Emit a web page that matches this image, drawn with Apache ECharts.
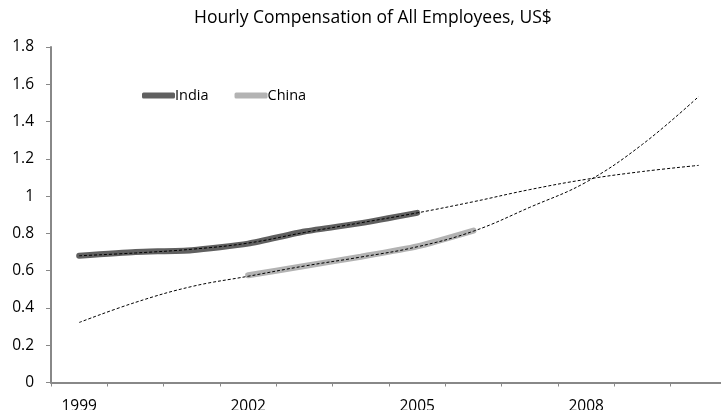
<!DOCTYPE html>
<html>
<head>
<meta charset="utf-8">
<script src="https://cdn.jsdelivr.net/npm/echarts@6/dist/echarts.min.js"></script>
<style>
    html,body{margin:0;padding:0;background:#fff;overflow:hidden;}
    #chart{width:721px;height:410px;}
</style>
</head>
<body>
<div id="chart"></div>
<script>
    // years on the category axis
    var years=['1999','2000','2001','2002','2003','2004','2005','2006','2007','2008','2009','2010'];
    var yTicks=[0,0.2,0.4,0.6,0.8,1,1.2,1.4,1.6,1.8];

    // series values
    var india=[0.68,0.70,0.71,0.745,0.81,0.855,0.91,null,null,null,null,null];
    var china=[null,null,null,0.575,0.625,0.675,0.73,0.815,null,null,null,null];

    // trend lines (dotted)
    var indiaTrend=[0.68,0.695,0.715,0.748,0.805,0.857,0.91,0.97,1.035,1.09,1.132,1.165];
    var chinaTrend=[0.322,0.43,0.515,0.57,0.625,0.673,0.728,0.812,0.94,1.075,1.278,1.535];

    var chart=echarts.init(document.getElementById('chart'));
    var font='"Open Sans", sans-serif';

    var option={
        animation:false,
        title:{
            text:'Hourly Compensation of All Employees, US$',
            left:194,
            top:9,
            padding:0,
            textStyle:{fontFamily:font,fontSize:17.5,fontWeight:'normal',color:'#000'}
        },
        legend:{
            data:['India','China'],
            left:142,
            top:88,
            padding:0,
            icon:'roundRect',
            itemWidth:33,
            itemHeight:6,
            itemGap:26,
            textStyle:{fontFamily:font,fontSize:14.5,color:'#000',padding:[0,0,0,-5]}
        },
        grid:{left:51,width:676,top:47,bottom:27.5,containLabel:false,outerBoundsMode:'none'},
        xAxis:{
            type:'category',
            data:years,
            boundaryGap:true,
            axisLine:{lineStyle:{color:'#888',width:2}},
            axisTick:{show:true,interval:0,length:4,lineStyle:{color:'#888'}},
            axisLabel:{interval:2,margin:16,fontFamily:font,fontSize:15.5,color:'#000'},
            splitLine:{show:false}
        },
        yAxis:{
            type:'value',
            min:yTicks[0],
            max:yTicks[yTicks.length-1],
            interval:0.2,
            axisLine:{show:true,lineStyle:{color:'#888',width:2}},
            axisTick:{show:true,length:5,lineStyle:{color:'#888'}},
            axisLabel:{margin:17,fontFamily:font,fontSize:15.5,color:'#000'},
            splitLine:{show:false}
        },
        series:[
            {
                name:'India',
                type:'line',
                data:india,
                smooth:0.2,
                showSymbol:false,
                color:'#606060',
                lineStyle:{width:6,cap:'round',color:'#606060'},
                z:2
            },
            {
                name:'China',
                type:'line',
                data:china,
                smooth:0.2,
                showSymbol:false,
                color:'#b3b3b3',
                lineStyle:{width:6,cap:'round',color:'#b3b3b3'},
                z:2
            },
            {
                name:'India trend',
                type:'line',
                data:indiaTrend,
                smooth:0.4,
                showSymbol:false,
                lineStyle:{width:1,type:[3,2],color:'#000'},
                z:3
            },
            {
                name:'China trend',
                type:'line',
                data:chinaTrend,
                smooth:0.4,
                showSymbol:false,
                lineStyle:{width:1,type:[3,2],color:'#000'},
                z:3
            }
        ]
    };

    chart.setOption(option);
    window.addEventListener("resize",chart.resize);
</script>
</body>
</html>
